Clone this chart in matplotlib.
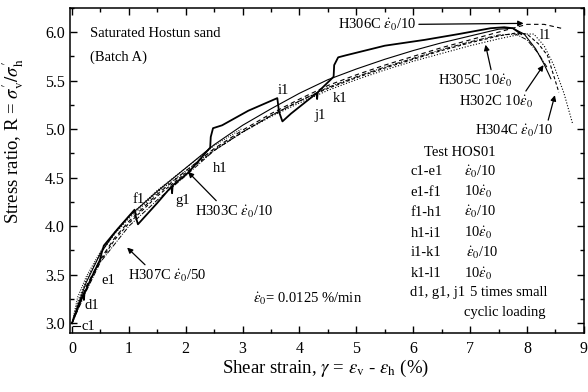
import numpy as np
import matplotlib
matplotlib.use('Agg')
import matplotlib.pyplot as plt
from matplotlib.ticker import MultipleLocator

plt.rcParams['font.family'] = 'serif'
plt.rcParams['font.serif'] = ['Liberation Serif', 'DejaVu Serif']
plt.rcParams['mathtext.fontset'] = 'stix'

# Test HOS01 with rate changes (c1 ... l1) and small cycles at d1, g1, j1
hos01_x = [0, 0.1, 0.2, 0.21, 0.22, 0.35, 0.49, 0.52, 0.56, 0.8, 1.1, 1.13, 1.16,
           1.5, 1.75, 1.76, 1.77, 2.04, 2.43, 2.44, 2.48, 2.64, 3.1, 3.61, 3.64,
           3.7, 3.85, 4.0, 4.3, 4.31, 4.32, 4.6, 4.61, 4.68, 4.81, 5.5, 6.2,
           6.8, 7.36, 7.6, 7.75, 7.9]
hos01_y = [3.0, 3.16, 3.3, 3.24, 3.31, 3.48, 3.65, 3.72, 3.8, 3.97, 4.17, 4.08, 4.02,
           4.24, 4.41, 4.34, 4.42, 4.55, 4.81, 4.92, 5.01, 5.04, 5.19, 5.32, 5.18,
           5.08, 5.16, 5.23, 5.37, 5.31, 5.38, 5.54, 5.66, 5.74, 5.76, 5.86, 5.92,
           5.98, 6.04, 6.05, 6.04, 5.98]

# Constant-rate reference tests
h302c_x = [0, 0.1, 0.25, 0.5, 0.75, 1.0, 1.5, 2.0, 2.5, 3.0, 3.5, 4.0, 4.5, 5.0,
           5.5, 6.0, 6.5, 7.0, 7.5, 7.75, 7.95, 8.15, 8.3, 8.42]
h302c_y = [3.0, 3.18, 3.42, 3.72, 3.93, 4.1, 4.36, 4.6, 4.84, 5.04, 5.21, 5.37, 5.51, 5.62,
           5.72, 5.81, 5.89, 5.96, 6.03, 6.04, 5.98, 5.83, 5.67, 5.52]

h306c_x = [0, 0.1, 0.25, 0.5, 0.75, 1.0, 1.5, 2.0, 2.5, 3.0, 3.5, 4.0, 4.5, 5.0,
           5.5, 6.0, 6.5, 7.0, 7.5, 8.0, 8.3, 8.6]
h306c_y = [3.0, 3.15, 3.38, 3.66, 3.88, 4.05, 4.33, 4.57, 4.8, 4.99, 5.16, 5.31, 5.45, 5.56,
           5.66, 5.75, 5.84, 5.92, 6.0, 6.08, 6.08, 6.04]

h304c_x = [0, 0.1, 0.25, 0.5, 0.75, 1.0, 1.5, 2.0, 2.5, 3.0, 3.5, 4.0, 4.5, 5.0,
           5.5, 6.0, 6.5, 7.0, 7.5, 7.8, 8.0, 8.2, 8.36, 8.56]
h304c_y = [3.0, 3.14, 3.36, 3.64, 3.86, 4.03, 4.31, 4.55, 4.78, 4.97, 5.14, 5.29, 5.42, 5.53,
           5.63, 5.72, 5.81, 5.89, 5.96, 5.99, 5.98, 5.88, 5.76, 5.38]

h305c_x = [0, 0.1, 0.25, 0.5, 0.75, 1.0, 1.5, 2.0, 2.5, 3.0, 3.5, 4.0, 4.5, 5.0,
           5.5, 6.0, 6.5, 7.0, 7.5, 7.9, 8.12, 8.3, 8.47, 8.65, 8.8]
h305c_y = [3.0, 3.22, 3.45, 3.72, 3.92, 4.08, 4.35, 4.57, 4.79, 4.97, 5.13, 5.27, 5.4, 5.51,
           5.61, 5.7, 5.78, 5.86, 5.93, 5.98, 5.98, 5.86, 5.66, 5.37, 5.06]

h303c_x = [0, 0.25, 0.5, 1.0, 1.5, 2.0, 2.5, 3.0, 3.5, 4.0, 4.5, 5.0, 5.5, 6.0,
           6.5, 7.0, 7.5, 7.8, 8.0, 8.2, 8.35]
h303c_y = [3.0, 3.33, 3.63, 4.0, 4.27, 4.52, 4.78, 4.97, 5.14, 5.29, 5.43, 5.54, 5.64, 5.73,
           5.82, 5.9, 5.97, 5.98, 5.92, 5.78, 5.64]

h307c_x = [0, 0.1, 0.25, 0.5, 0.75, 1.0, 1.5, 2.0, 2.5, 3.0]
h307c_y = [3.0, 3.27, 3.48, 3.74, 3.94, 4.1, 4.37, 4.6, 4.83, 5.01]

# point labels of test HOS01
pt_names = ['c1', 'd1', 'e1', 'f1', 'g1', 'h1', 'i1', 'j1', 'k1', 'l1']
pt_x = [0.28, 0.35, 0.64, 1.18, 1.94, 2.6, 3.71, 4.37, 4.72, 8.33]
pt_y = [2.97, 3.18, 3.44, 4.28, 4.26, 4.59, 5.40, 5.14, 5.32, 5.97]

# rate table of test HOS01
seg_names = ['c1-e1', 'e1-f1', 'f1-h1', 'h1-i1', 'i1-k1', 'k1-l1', 'd1, g1, j1']
seg_rates = [r'$\dot{\varepsilon}_0$/10', r'10$\dot{\varepsilon}_0$',
             r'$\dot{\varepsilon}_0$/10', r'10$\dot{\varepsilon}_0$',
             r'$\dot{\varepsilon}_0$/10', r'10$\dot{\varepsilon}_0$', '5 times small']
seg_y = [4.56, 4.35, 4.144, 3.93, 3.73, 3.515, 3.32]
rate_x = [6.9, 6.9, 6.9, 6.9, 6.93, 6.9, 6.99]

fig = plt.figure(figsize=(5.88, 3.92), dpi=100)
ax = fig.add_axes([0.119, 0.1505, 0.874, 0.8295])

ax.plot(h307c_x, h307c_y, color='k', lw=0.7, ls=(0, (1, 1.5)))
ax.plot(h303c_x, h303c_y, color='k', lw=0.7, ls=(0, (5, 1.5, 1, 1.5)))
ax.plot(h305c_x, h305c_y, color='k', lw=0.8, ls=(0, (1, 1.6)))
ax.plot(h304c_x, h304c_y, color='k', lw=0.8, ls=(0, (3, 2)))
ax.plot(h306c_x, h306c_y, color='k', lw=0.8, ls=(0, (4, 3)))
ax.plot(h302c_x, h302c_y, color='k', lw=0.8)
ax.plot(hos01_x, hos01_y, color='k', lw=1.3)

ax.set_xlim(-0.035, 9.0)
ax.set_ylim(2.9, 6.25)
ax.xaxis.set_major_locator(MultipleLocator(1))
ax.xaxis.set_minor_locator(MultipleLocator(0.5))
ax.yaxis.set_minor_locator(MultipleLocator(0.25))
ax.set_yticks(np.arange(3.0, 6.01, 0.5))
ax.set_yticklabels([f'{v:.1f}' for v in np.arange(3.0, 6.01, 0.5)])
ax.tick_params(which='both', direction='in', top=True, right=True, labelsize=11.5, width=1.0)
ax.tick_params(which='major', length=5)
ax.tick_params(which='minor', length=3)
ax.tick_params(axis='x', pad=6)
for s in ax.spines.values():
    s.set_linewidth(1.1)

ax.set_xlabel(r'Shear strain, $\gamma$ = $\varepsilon_{\rm v}$ - $\varepsilon_{\rm h}$ (%)', fontsize=13.5)
ax.set_ylabel(r"Stress ratio, R = $\sigma^{\prime}_{\rm v}/\sigma^{\prime}_{\rm h}$", fontsize=13.5)
ax.xaxis.set_label_coords(0.498, -0.075)
ax.yaxis.set_label_coords(-0.085, 0.59)

fs = 10.5
ax.text(0.32, 5.99, 'Saturated Hostun sand', fontsize=fs, va='center')
ax.text(0.32, 5.74, '(Batch A)', fontsize=fs, va='center')

for name, x, y in zip(pt_names, pt_x, pt_y):
    ax.text(x, y, name, fontsize=fs, ha='center', va='center')
ax.plot([0.02, 0.14], [2.975, 2.975], color='k', lw=0.8)

arrow = dict(arrowstyle='-|>', color='k', lw=0.9, mutation_scale=8, shrinkA=0, shrinkB=0)
ax.annotate(r'H307C $\dot{\varepsilon}_0$/50', xy=(0.97, 3.78), xytext=(0.99, 3.49),
            fontsize=fs, va='center', ha='left', arrowprops=dict(arrow, relpos=(0.25, 1.0)))
ax.annotate(r'H303C $\dot{\varepsilon}_0$/10', xy=(2.04, 4.56), xytext=(2.17, 4.15),
            fontsize=fs, va='center', ha='left', arrowprops=dict(arrow, relpos=(0.3, 1.0)))
ax.annotate(r'H306C $\dot{\varepsilon}_0$/10', xy=(7.94, 6.09), xytext=(4.67, 6.08),
            fontsize=fs, va='center', ha='left', arrowprops=dict(arrow, relpos=(1.0, 0.5)))
ax.annotate(r'H305C 10$\dot{\varepsilon}_0$', xy=(7.27, 5.87), xytext=(6.44, 5.5),
            fontsize=fs, va='center', ha='left', arrowprops=dict(arrow, relpos=(0.72, 1.0)))
ax.annotate(r'H302C 10$\dot{\varepsilon}_0$', xy=(8.29, 5.66), xytext=(6.8, 5.28),
            fontsize=fs, va='center', ha='left', arrowprops=dict(arrow, relpos=(0.88, 1.0)))
ax.annotate(r'H304C $\dot{\varepsilon}_0$/10', xy=(8.49, 5.35), xytext=(7.09, 4.98),
            fontsize=fs, va='center', ha='left', arrowprops=dict(arrow, relpos=(0.92, 1.0)))

ax.text(6.81, 4.76, 'Test HOS01', fontsize=fs, ha='center', va='center')
for name, rate, y, rx in zip(seg_names, seg_rates, seg_y, rate_x):
    ax.text(5.95, y, name, fontsize=fs, va='center')
    ax.text(rx, y, rate, fontsize=fs, va='center')
ax.text(6.9, 3.113, 'cyclic loading', fontsize=fs, va='center')
ax.text(3.19, 3.25, r'$\dot{\varepsilon}_0$= 0.0125 %/min', fontsize=fs, va='center')

fig.savefig('out.png', dpi=100)
